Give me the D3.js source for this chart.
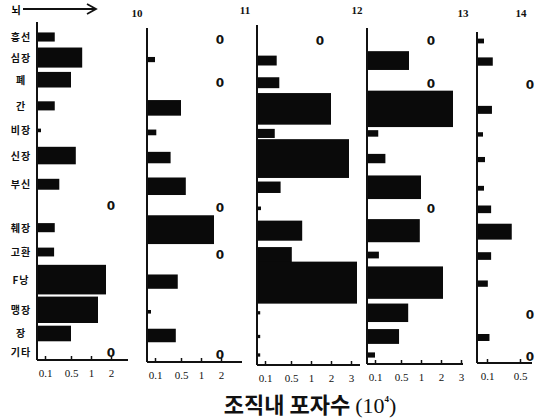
<!DOCTYPE html>
<html>
<head>
<meta charset="utf-8">
<script src="https://cdnjs.cloudflare.com/ajax/libs/d3/7.8.5/d3.min.js"></script>
<style>
body { margin: 0; background: #fff; }
.tick text { font-family: "Liberation Serif", serif; font-size: 11px; fill: #111; }
.tick line { stroke: #111; stroke-width: 1.5; }
</style>
</head>
<body>
<div id="chart"></div>
<script>
// organs, top to bottom (one row has no label in the original)
var organs = ["흉선", "심장", "폐", "간", "비장", "신장", "부신", "", "췌장", "고환", "F낭", "맹장", "장", "기타"];
var days = ["10", "11", "12", "13", "14"];

// spores in tissue (x 10^4)
var day10 = [0.25, 0.78, 0.5, 0.25, 0.05, 0.62, 0.32, 0, 0.25, 0.24, 1.75, 1.35, 0.5, 0];
var day11 = [0, 0.1, 0, 0.5, 0.12, 0.34, 0.62, 0, 1.65, 0, 0.45, 0.05, 0.42, 0];
var day12 = [0, 0.28, 0.32, 2.0, 0.25, 2.9, 0.34, 0.05, 0.78, 0.52, 3.3, 0.04, 0.04, 0.04];
var day13 = [0, 0.7, 0, 2.6, 0.15, 0.26, 1.0, 0, 0.97, 0.16, 2.1, 0.68, 0.47, 0.1];
var day14 = [0.07, 0.17, 0, 0.16, 0.06, 0.08, 0.07, 0.15, 0.4, 0.15, 0.11, 0, 0.13, 0];

var ticksA = [0.1, 0.5, 1, 2];
var ticksB = [0.1, 0.5, 1, 2, 3];
var ticksC = [0.1, 0.5];

var series = [day10, day11, day12, day13, day14];
var tickSets = [ticksA, ticksA, ticksB, ticksB, ticksC];

var svgWidth = 539;
var svgHeight = 420;

// hand drawn axis: not quite log, not linear
var domainMain = [0, 0.1, 0.5, 1, 2, 3];
var rangeMain = [0, 8, 34, 54, 74, 94];

var panels = [
    { x0: 37, top: 22, bottom: 360, len: 91, dy: 0, zeroX: 74, labelX: 137, labelY: 17 },
    { x0: 147, top: 28, bottom: 362, len: 95, dy: 2, zeroX: 73, labelX: 245, labelY: 14 },
    { x0: 257, top: 25, bottom: 365, len: 103, dy: 3, zeroX: 63, labelX: 357, labelY: 14 },
    { x0: 367, top: 28, bottom: 364, len: 96, dy: 3, zeroX: 64, labelX: 463, labelY: 17 },
    { x0: 477, top: 32, bottom: 363, len: 55, dy: 4, zeroX: 53, labelX: 521, labelY: 17 }
];

panels.forEach(function (p, i) {
    var s = d3.scaleLinear();
    if (i == 4) {
        s.domain([0, 0.1, 0.5, 1]).range([0, 10, 43, 60]);
    } else {
        s.domain(domainMain).range(rangeMain);
    }
    p.x = s;
});

// bar thickness grows with bar length, like the drawing
function thick(len) {
    return Math.max(3, 0.4 * len + 2);
}

// rows: spacing mixes a fixed step with the thickest bar in each row
var rowH = organs.map(function (o, r) {
    return d3.max(series, function (s, i) { return thick(panels[i].x(s[r])); });
});
var cum = [0];
for (var r = 1; r < organs.length; r++) {
    cum.push(cum[r - 1] + 13.7 + 0.5 * (rowH[r - 1] + rowH[r]) / 2);
}
var yRow = d3.scaleLinear().domain([0, cum[cum.length - 1]]).range([37, 352]);
var rowY = cum.map(function (c) { return yRow(c); });

var svg = d3.select("#chart")
    .append("svg")
    .attr("width", svgWidth)
    .attr("height", svgHeight);

// row labels
svg.selectAll(".organ")
    .data(organs)
    .enter()
    .append("text")
    .attr("class", "organ")
    .attr("x", 21)
    .attr("y", function (d, i) { return rowY[i] + 4; })
    .attr("text-anchor", "middle")
    .attr("font-family", "Noto Sans CJK KR")
    .attr("font-weight", "bold")
    .attr("font-size", "10px")
    .attr("letter-spacing", "1px")
    .attr("fill", "#111")
    .text(function (d) { return d; });

// brain label with arrow
svg.append("text")
    .attr("x", 16)
    .attr("y", 14)
    .attr("text-anchor", "middle")
    .attr("font-family", "Noto Sans CJK KR")
    .attr("font-weight", "bold")
    .attr("font-size", "10px")
    .text("뇌");
svg.append("line")
    .attr("x1", 23).attr("y1", 9)
    .attr("x2", 95).attr("y2", 9)
    .attr("stroke", "#111")
    .attr("stroke-width", 2);
svg.append("path")
    .attr("d", "M87,4 L96,9 L87,14")
    .attr("fill", "none")
    .attr("stroke", "#111")
    .attr("stroke-width", 1.8);

panels.forEach(function (p, i) {
    var g = svg.append("g")
        .attr("transform", `translate(${p.x0}, 0)`);
    var vals = series[i];

    // bars, and a "0" where nothing was found
    vals.forEach(function (v, r) {
        var cy = rowY[r] + p.dy;
        if (v > 0) {
            var L = p.x(v);
            var h = thick(L);
            g.append("rect")
                .datum(v)
                .attr("x", 0)
                .attr("y", cy - h / 2)
                .attr("width", L)
                .attr("height", h)
                .attr("fill", "#0a0a0a");
        } else {
            g.append("text")
                .datum(v)
                .attr("x", p.zeroX)
                .attr("y", cy + 5)
                .attr("text-anchor", "middle")
                .attr("font-family", "DejaVu Sans")
                .attr("font-weight", "bold")
                .attr("font-size", "12px")
                .attr("fill", "#111")
                .text("0");
        }
    });

    // vertical axis
    g.append("line")
        .attr("x1", 0).attr("x2", 0)
        .attr("y1", p.top).attr("y2", p.bottom)
        .attr("stroke", "#111")
        .attr("stroke-width", 2);

    // bottom axis
    var axis = d3.axisBottom(p.x)
        .tickValues(tickSets[i])
        .tickFormat(function (d) { return String(d); })
        .tickSizeInner(-4)
        .tickSizeOuter(0)
        .tickPadding(9);
    var ag = g.append("g")
        .attr("transform", `translate(0, ${p.bottom})`)
        .call(axis);
    ag.select(".domain").remove();
    ag.append("line")
        .attr("x1", 0).attr("x2", p.len)
        .attr("stroke", "#111")
        .attr("stroke-width", 2);

    // day label
    svg.append("text")
        .attr("x", p.labelX)
        .attr("y", p.labelY)
        .attr("text-anchor", "middle")
        .attr("font-family", "Liberation Serif")
        .attr("font-weight", "bold")
        .attr("font-size", "11px")
        .attr("fill", "#111")
        .text(days[i]);
});

// axis title
var title = svg.append("text")
    .attr("x", 310)
    .attr("y", 413)
    .attr("text-anchor", "middle")
    .attr("font-family", "Noto Sans CJK KR")
    .attr("font-weight", "bold")
    .attr("font-size", "22px")
    .attr("fill", "#111");
title.append("tspan").text("조직내 포자수 ");
title.append("tspan").attr("font-family", "Liberation Serif").attr("font-weight", "normal").text(" (10");
title.append("tspan").attr("font-family", "Liberation Serif").attr("font-size", "9px").attr("dy", "-11").text("4");
title.append("tspan").attr("font-family", "Liberation Serif").attr("font-weight", "normal").attr("dy", "11").text(")");
</script>
</body>
</html>
